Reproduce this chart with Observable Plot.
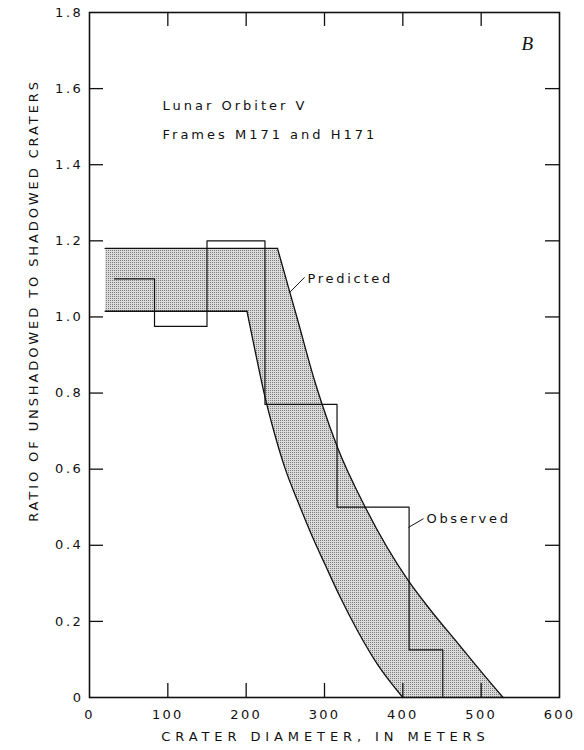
<!DOCTYPE html>
<html>
<head>
<meta charset="utf-8">
<script src="https://cdn.jsdelivr.net/npm/d3@7"></script>
<script src="https://cdn.jsdelivr.net/npm/@observablehq/plot@0.6"></script>
<style>
  body { margin: 0; background: #fff; }
  #chart svg text { fill: #111; }
  g[aria-label="x-axis tick label"] text { letter-spacing: 2.3px; }
  g[aria-label="y-axis tick label"] text { letter-spacing: 2.6px; }
</style>
</head>
<body>
<div id="chart"></div>
<script>
// ---- tick values ----
const xTicks = [0, 100, 200, 300, 400, 500, 600];
const yTicks = [0, 0.2, 0.4, 0.6, 0.8, 1.0, 1.2, 1.4, 1.6, 1.8];
const xInnerTicks = [100, 200, 300, 400, 500];
const yInnerTicks = [0.2, 0.4, 0.6, 0.8, 1.0, 1.2, 1.4, 1.6];

// ---- observed ratio (histogram steps) ----
const observedX = [32, 83, 150, 224, 316, 408, 451];
const observedY = [1.10, 0.975, 1.20, 0.77, 0.50, 0.125, 0];

// ---- predicted band: upper and lower bounds ----
const upperX = [20, 240, 253, 266, 287, 297, 317, 352, 407, 436, 472, 500, 528];
const upperY = [1.18, 1.18, 1.085, 0.99, 0.835, 0.77, 0.655, 0.50, 0.307, 0.228, 0.138, 0.068, 0];
const lowerX = [20, 201, 212, 224, 236, 250, 267, 284, 301, 320, 342, 367, 400];
const lowerY = [1.015, 1.015, 0.905, 0.79, 0.695, 0.60, 0.51, 0.425, 0.348, 0.264, 0.176, 0.089, 0];

// ---- texts ----
const xTitle = "CRATER DIAMETER, IN METERS";
const yTitle = "RATIO OF UNSHADOWED TO SHADOWED CRATERS";
const noteText = ["Lunar Orbiter V", "Frames M171 and H171"];
const noteX = [93.2, 93.2];
const noteY = [1.556, 1.479];
const panelText = ["B"];
const panelX = [559];
const panelY = [1.7185];
const calloutText = ["Predicted", "Observed"];
const calloutX = [278.3, 430.2];
const calloutY = [1.101, 0.470];
const leaderX1 = [274.5, 426.4];
const leaderY1 = [1.104, 0.470];
const leaderX2 = [255.3, 407.3];
const leaderY2 = [1.064, 0.447];

// ---- build tables ----
const observedRows = observedX.map((x, i) => ({x, y: observedY[i]}));
function segRows(xs, ys) {
  // straight plateau segment, then curved fall-off segment
  const rows = [];
  rows.push({x: xs[0], y: ys[0], seg: "flat"}, {x: xs[1], y: ys[1], seg: "flat"});
  for (let i = 1; i < xs.length; i++) rows.push({x: xs[i], y: ys[i], seg: "curve"});
  return rows;
}
const upperRows = segRows(upperX, upperY);
const lowerRows = segRows(lowerX, lowerY);
const noteRows = noteText.map((t, i) => ({t, x: noteX[i], y: noteY[i]}));
const panelRows = panelText.map((t, i) => ({t, x: panelX[i], y: panelY[i]}));
const calloutRows = calloutText.map((t, i) => ({t, x: calloutX[i], y: calloutY[i]}));
const leaderRows = leaderX1.map((x1, i) => ({x1, y1: leaderY1[i], x2: leaderX2[i], y2: leaderY2[i]}));

const W = 584, H = 750, mL = 89, mR = 25, mT = 12, mB = 53;
const frameW = W - mL - mR, frameH = H - mT - mB, tickLen = 14;

const svg = Plot.plot({
  width: W, height: H,
  marginLeft: mL, marginRight: mR, marginTop: mT, marginBottom: mB,
  style: {fontFamily: "DejaVu Sans", fontSize: "13px", background: "#fff", color: "#111"},
  x: {domain: [0, 600]},
  y: {domain: [0, 1.8]},
  marks: [
    // band fill: stippled under upper bound, cleared under lower bound (no stacking)
    Plot.areaY(upperRows, {x: "x", y1: 0, y2: "y", z: "seg", curve: "monotone-x", fill: "url(#stipple)", shapeRendering: "crispEdges"}),
    Plot.areaY(lowerRows, {x: "x", y1: 0, y2: "y", z: "seg", curve: "monotone-x", fill: "#fff", shapeRendering: "crispEdges"}),
    Plot.line(upperRows, {x: "x", y: "y", z: "seg", curve: "monotone-x", stroke: "#111", strokeWidth: 1.3}),
    Plot.line(lowerRows, {x: "x", y: "y", z: "seg", curve: "monotone-x", stroke: "#111", strokeWidth: 1.3}),
    Plot.line(observedRows, {x: "x", y: "y", curve: "step-after", stroke: "#111", strokeWidth: 1.2}),
    // inward ticks
    Plot.tickX(xInnerTicks, {x: d => d, insetTop: frameH - tickLen, stroke: "#111", strokeWidth: 1.3}),
    Plot.tickX(xInnerTicks, {x: d => d, insetBottom: frameH - tickLen, stroke: "#111", strokeWidth: 1.3}),
    Plot.tickY(yInnerTicks, {y: d => d, insetRight: frameW - tickLen, stroke: "#111", strokeWidth: 1.3}),
    Plot.tickY(yInnerTicks, {y: d => d, insetLeft: frameW - tickLen, stroke: "#111", strokeWidth: 1.3}),
    Plot.frame({stroke: "#111", strokeWidth: 1.6}),
    // axes labels
    Plot.axisX(xTicks, {anchor: "bottom", tickSize: 0, tickPadding: 12, label: null, fontSize: 13, tickFormat: d => String(d)}),
    Plot.axisY(yTicks, {anchor: "left", tickSize: 0, tickPadding: 6, label: null, fontSize: 13,
      tickFormat: d => d === 0 ? "0" : d.toFixed(1)}),
    Plot.text([xTitle], {frameAnchor: "bottom", textAnchor: "middle", lineAnchor: "middle", dy: 39, dx: 1,
      text: d => d, fontSize: 13}),
    Plot.text([yTitle], {frameAnchor: "left", textAnchor: "middle", lineAnchor: "middle", rotate: -90, dx: -55.4, dy: -54.5,
      text: d => d, fontSize: 13}),
    // annotations
    Plot.text(noteRows, {x: "x", y: "y", text: "t", textAnchor: "start", fontSize: 13}),
    Plot.text(panelRows, {x: "x", y: "y", text: "t", fontSize: 19, fontFamily: "Liberation Serif", fontStyle: "italic"}),
    Plot.link(leaderRows, {x1: "x1", y1: "y1", x2: "x2", y2: "y2", stroke: "#111", strokeWidth: 1}),
    Plot.text(calloutRows, {x: "x", y: "y", text: "t", textAnchor: "start", fontSize: 13})
  ]
});

// letter spacing of the wide-set lettering
const spacing = new Map([[xTitle, 4.9], [yTitle, 2.9]]);
noteText.forEach(t => spacing.set(t, 3));
calloutText.forEach(t => spacing.set(t, 2.7));
d3.select(svg).selectAll("text").each(function() {
  const s = spacing.get(this.textContent);
  if (s != null) this.setAttribute("letter-spacing", s);
});

// stipple pattern for the predicted band
const defs = d3.select(svg).insert("defs", ":first-child");
const pat = defs.append("pattern").attr("id", "stipple")
  .attr("width", 2).attr("height", 2).attr("patternUnits", "userSpaceOnUse");
pat.append("rect").attr("width", 2).attr("height", 2).attr("fill", "#dadada");
pat.append("rect").attr("width", 1).attr("height", 1).attr("fill", "#7e7e7e");

document.getElementById("chart").appendChild(svg);
</script>
</body>
</html>
